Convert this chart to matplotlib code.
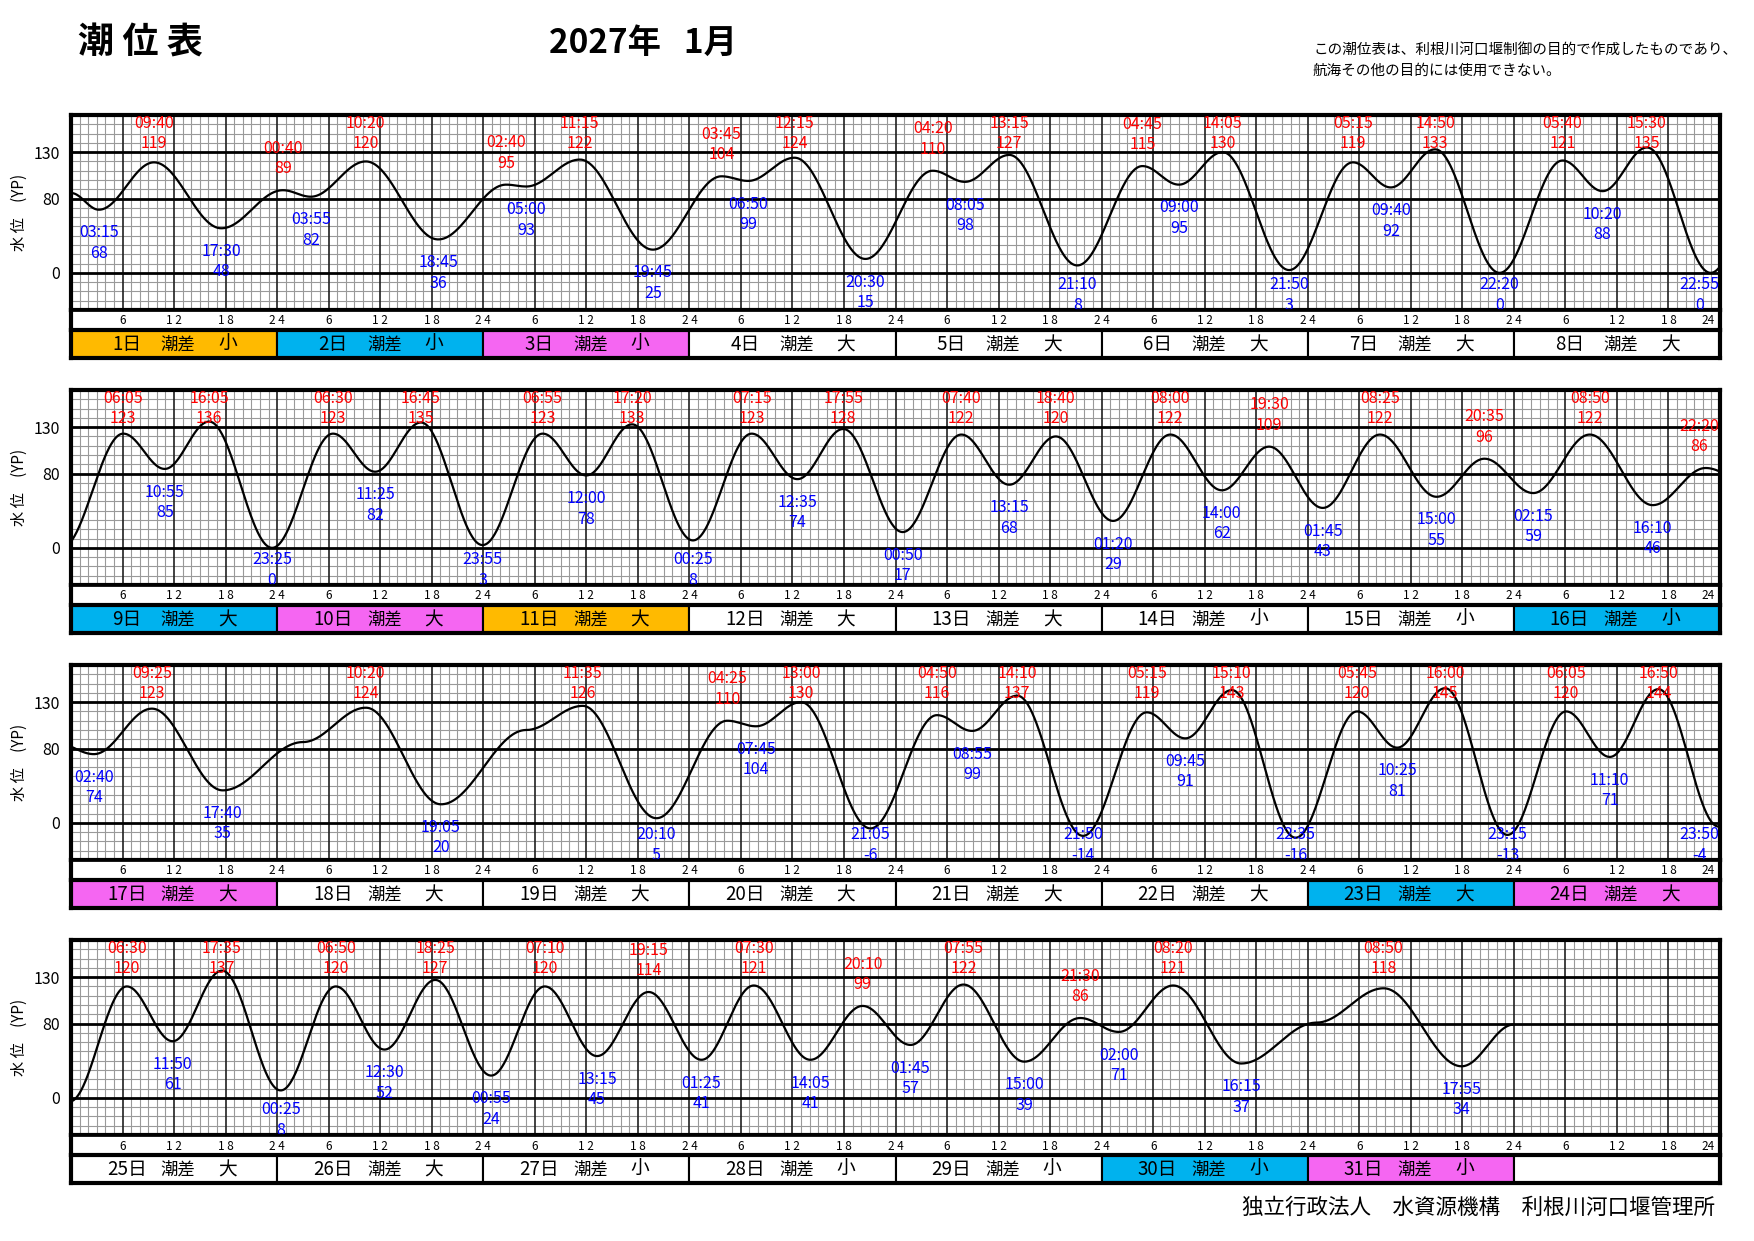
import numpy as np
import matplotlib
matplotlib.use('Agg')
import matplotlib.pyplot as plt
from matplotlib.patches import Rectangle

plt.rcParams['font.family'] = ['Noto Sans CJK JP', 'DejaVu Sans']

# High tides: day, time, level (cm, YP)
high_days = [1, 2, 2, 3, 3, 4, 4, 5, 5, 6, 6, 7, 7, 8, 8,
             9, 9, 10, 10, 11, 11, 12, 12, 13, 13, 14, 14, 15, 15, 16, 16,
             17, 18, 19, 20, 20, 21, 21, 22, 22, 23, 23, 24, 24,
             25, 25, 26, 26, 27, 27, 28, 28, 29, 29, 30, 31]
high_times = ['09:40', '00:40', '10:20', '02:40', '11:15', '03:45', '12:15', '04:20', '13:15',
              '04:45', '14:05', '05:15', '14:50', '05:40', '15:30',
              '06:05', '16:05', '06:30', '16:45', '06:55', '17:20', '07:15', '17:55',
              '07:40', '18:40', '08:00', '19:30', '08:25', '20:35', '08:50', '22:20',
              '09:25', '10:20', '11:35', '04:25', '13:00', '04:50', '14:10', '05:15', '15:10',
              '05:45', '16:00', '06:05', '16:50',
              '06:30', '17:35', '06:50', '18:25', '07:10', '19:15', '07:30', '20:10',
              '07:55', '21:30', '08:20', '08:50']
high_values = [119, 89, 120, 95, 122, 104, 124, 110, 127, 115, 130, 119, 133, 121, 135,
               123, 136, 123, 135, 123, 133, 123, 128, 122, 120, 122, 109, 122, 96, 122, 86,
               123, 124, 126, 110, 130, 116, 137, 119, 143, 120, 145, 120, 144,
               120, 137, 120, 127, 120, 114, 121, 99, 122, 86, 121, 118]

# Low tides
low_days = [1, 1, 2, 2, 3, 3, 4, 4, 5, 5, 6, 6, 7, 7, 8, 8,
            9, 9, 10, 10, 11, 12, 12, 13, 13, 14, 14, 15, 15, 16, 16,
            17, 17, 18, 19, 20, 20, 21, 21, 22, 22, 23, 23, 24, 24,
            25, 26, 26, 27, 27, 28, 28, 29, 29, 30, 30, 31]
low_times = ['03:15', '17:30', '03:55', '18:45', '05:00', '19:45', '06:50', '20:30',
             '08:05', '21:10', '09:00', '21:50', '09:40', '22:20', '10:20', '22:55',
             '10:55', '23:25', '11:25', '23:55', '12:00', '00:25', '12:35', '00:50', '13:15',
             '01:20', '14:00', '01:45', '15:00', '02:15', '16:10',
             '02:40', '17:40', '19:05', '20:10', '07:45', '21:05', '08:55', '21:50',
             '09:45', '22:35', '10:25', '23:15', '11:10', '23:50',
             '11:50', '00:25', '12:30', '00:55', '13:15', '01:25', '14:05',
             '01:45', '15:00', '02:00', '16:15', '17:55']
low_values = [68, 48, 82, 36, 93, 25, 99, 15, 98, 8, 95, 3, 92, 0, 88, 0,
              85, 0, 82, 3, 78, 8, 74, 17, 68, 29, 62, 43, 55, 59, 46,
              74, 35, 20, 5, 104, -6, 99, -14, 91, -16, 81, -13, 71, -4,
              61, 8, 52, 24, 45, 41, 41, 57, 39, 71, 37, 34]

# unlabelled points of the curve (start, flat stretches, end)
shape_days = [1, 18, 19, 31, 31]
shape_times = ['00:00', '03:00', '05:00', '01:00', '24:00']
shape_values = [86, 87, 100, 81, 79]

# day strip: colour class and tidal range
day_colors = ['o', 'c', 'm', 'w', 'w', 'w', 'w', 'w',
              'c', 'm', 'o', 'w', 'w', 'w', 'w', 'c',
              'm', 'w', 'w', 'w', 'w', 'w', 'c', 'm',
              'w', 'w', 'w', 'w', 'w', 'c', 'm']
day_range = ['小', '小', '小', '大', '大', '大', '大', '大',
             '大', '大', '大', '大', '大', '小', '小', '小',
             '大', '大', '大', '大', '大', '大', '大', '大',
             '大', '大', '小', '小', '小', '小', '小']
color_map = {'o': '#FFBA00', 'c': '#00B2EE', 'm': '#F566F2', 'w': 'white'}


def to_hours(day, hhmm):
    h, m = hhmm.split(':')
    return (day - 1) * 24 + int(h) + int(m) / 60.0


# knots of the tide curve
knots = []
for d, t, v in zip(high_days, high_times, high_values):
    knots.append((to_hours(d, t), v, 'H', t))
for d, t, v in zip(low_days, low_times, low_values):
    knots.append((to_hours(d, t), v, 'L', t))
for d, t, v in zip(shape_days, shape_times, shape_values):
    knots.append((to_hours(d, t), v, 'S', t))
knots.sort()
kt = np.array([k[0] for k in knots])
kv = np.array([k[1] for k in knots], dtype=float)

# half-cosine curve between successive turning points
tt = np.arange(kt[0], kt[-1] + 1e-6, 1 / 12)
idx = np.clip(np.searchsorted(kt, tt, side='right') - 1, 0, len(kt) - 2)
frac = (tt - kt[idx]) / (kt[idx + 1] - kt[idx])
level = kv[idx] + (kv[idx + 1] - kv[idx]) * (1 - np.cos(np.pi * frac)) / 2

W, H = 1754, 1241
fig = plt.figure(figsize=(W / 100, H / 100), dpi=100)


def rect(x0, y0, x1, y1):
    return [x0 / W, 1 - y1 / H, (x1 - x0) / W, (y1 - y0) / H]


num_font = ['Liberation Sans Narrow', 'Noto Sans CJK JP']
left, right = 71, 1720
row_tops = [115, 390, 665, 940]
plot_h, hour_h, day_h = 195, 20, 28

for r, top in enumerate(row_tops):
    t0 = r * 192
    # ---- tide plot
    ax = fig.add_axes(rect(left, top, right, top + plot_h))
    ax.set_xlim(0, 192)
    ax.set_ylim(-40, 170)
    for x in range(1, 192):
        if x % 6 == 0:
            ax.axvline(x, color='#202020', lw=1.2, zorder=1)
        else:
            ax.axvline(x, color='#999999', lw=0.8, zorder=0)
    for y in range(-30, 170, 10):
        if y in (0, 80, 130):
            ax.axhline(y, color='black', lw=2.0, zorder=1)
        else:
            ax.axhline(y, color='#999999', lw=0.8, zorder=0)
    m = (tt >= t0) & (tt <= t0 + 192)
    ax.plot(tt[m] - t0, level[m], color='black', lw=1.6, zorder=3)

    for t, v, kind, lab in knots:
        if kind == 'S' or not (t0 <= t < t0 + 192):
            continue
        # keep the label inside the panel
        x = min(max(t - t0, 2.4), 192 - 2.4)
        if kind == 'H':
            ty = min(v + 45, 161)
            col = 'red'
        else:
            ty = max(v - 25, -13)
            col = 'blue'
        ax.text(x, ty, lab, color=col, ha='center', va='center', fontsize=11.5,
                family=num_font, zorder=4, clip_on=True)
        ax.text(x, ty - 22, str(v), color=col, ha='center', va='center', fontsize=11.5,
                family=num_font, zorder=4, clip_on=True)

    ax.set_xticks([])
    ax.set_yticks([0, 80, 130])
    ax.set_yticklabels(['0', '80', '130'], fontsize=11.5, family=num_font)
    ax.tick_params(axis='y', length=0, pad=8)
    ax.set_ylabel('水 位　(YP)', fontsize=11, labelpad=4)
    for s in ax.spines.values():
        s.set_linewidth(3)

    # ---- hour strip
    axh = fig.add_axes(rect(left, top + plot_h, right, top + plot_h + hour_h))
    axh.set_xlim(0, 192)
    axh.set_ylim(0, 1)
    axh.set_xticks([])
    axh.set_yticks([])
    for d in range(8):
        for hh, lab in zip([6, 12, 18, 24], ['6', '1 2', '1 8', '2 4']):
            x = d * 24 + hh
            if x == 192:
                axh.text(x - 0.6, 0.45, '24', ha='right', va='center', fontsize=8.5, family=num_font)
            else:
                axh.text(x, 0.45, lab, ha='center', va='center', fontsize=8.5, family=num_font)
    for s in axh.spines.values():
        s.set_linewidth(2)
    axh.spines['left'].set_linewidth(3)
    axh.spines['right'].set_linewidth(3)

    # ---- day strip
    axd = fig.add_axes(rect(left, top + plot_h + hour_h, right, top + plot_h + hour_h + day_h))
    axd.set_xlim(0, 8)
    axd.set_ylim(0, 1)
    axd.set_xticks([])
    axd.set_yticks([])
    for d in range(8):
        day = r * 8 + d + 1
        if day <= 31:
            fc = color_map[day_colors[day - 1]]
        else:
            fc = 'white'
        axd.add_patch(Rectangle((d, 0), 1, 1, facecolor=fc, edgecolor='black', lw=1.5))
        if day <= 31:
            axd.text(d + 0.27, 0.47, f'{day}日', ha='center', va='center', fontsize=13.5)
            axd.text(d + 0.52, 0.47, '潮差', ha='center', va='center', fontsize=12.5)
            axd.text(d + 0.76, 0.47, day_range[day - 1], ha='center', va='center', fontsize=13.5)
    for s in axd.spines.values():
        s.set_linewidth(3)

# ---- header / footer
fig.text(78 / W, 1 - 43 / H, '潮 位 表', fontsize=26, fontweight='bold', va='center', ha='left')
fig.text(549 / W, 1 - 43 / H, '2027年   1月', fontsize=24, fontweight='bold', va='center', ha='left',
         family=['Liberation Sans Narrow', 'Noto Sans CJK JP'])
fig.text(1313 / W, 1 - 50 / H, 'この潮位表は、利根川河口堰制御の目的で作成したものであり、',
         fontsize=10.5, va='center', ha='left')
fig.text(1313 / W, 1 - 71 / H, '航海その他の目的には使用できない。', fontsize=10.5, va='center', ha='left')
fig.text(1715 / W, 1 - 1208 / H, '独立行政法人　水資源機構　利根川河口堰管理所',
         fontsize=15.5, va='center', ha='right')

fig.savefig('out.png', dpi=100)
